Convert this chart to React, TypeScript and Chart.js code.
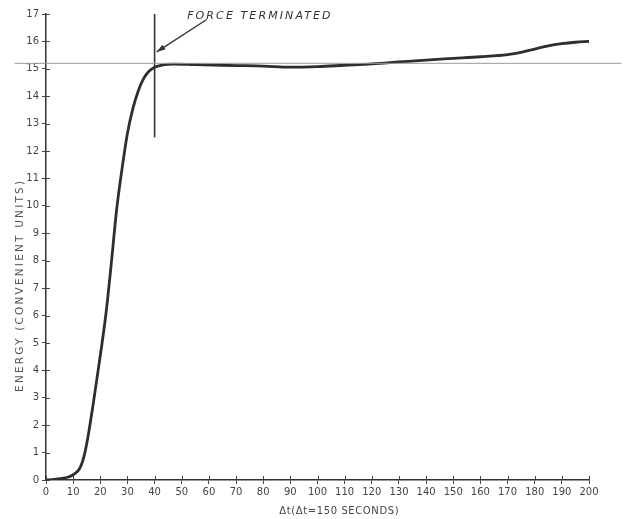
import React, { useEffect, useRef } from 'react';
import { Chart, registerables } from 'chart.js';

Chart.register(...registerables);

// ---- data ----
const timeSteps = [0, 3, 5, 8, 10, 12, 13, 14, 15.5, 17.5, 19.5, 22, 24, 26, 28, 30, 32, 34, 36, 38, 40, 43, 47, 55, 70, 80, 90, 100, 110, 120, 130, 140, 150, 160, 170, 175, 180, 185, 190, 195, 200];
const energy = [0, 0.02, 0.05, 0.1, 0.19, 0.36, 0.55, 0.86, 1.6, 2.85, 4.2, 6.0, 7.85, 9.85, 11.35, 12.65, 13.55, 14.2, 14.65, 14.92, 15.06, 15.14, 15.17, 15.15, 15.12, 15.1, 15.06, 15.08, 15.13, 15.18, 15.25, 15.32, 15.38, 15.44, 15.52, 15.6, 15.72, 15.84, 15.92, 15.97, 16.0];
const xTickValues = [0, 10, 20, 30, 40, 50, 60, 70, 80, 90, 100, 110, 120, 130, 140, 150, 160, 170, 180, 190, 200];
const yTickValues = [0, 1, 2, 3, 4, 5, 6, 7, 8, 9, 10, 11, 12, 13, 14, 15, 16, 17];
const forceTerminatedAt = 40;
const forceMarkerEnergy = [12.5, 17];
const referenceEnergy = 15.2;
const referenceSpan = [-11.5, 212];
const annotationText = 'FORCE TERMINATED';
const yTitle = 'ENERGY (CONVENIENT UNITS)';
const xTitle = 'Δt(Δt=150 SECONDS)';

// annotation anchors in data units
const arrowFrom = { x: 59.2, y: 16.8 };
const arrowTo = { x: 40.8, y: 15.62 };
const labelAt = { x: 52, y: 16.93 };
const yTitleCenter = 7.1;
const xTitleCenter = 108;

const INK = '#333';
const FONT = '"DejaVu Sans", sans-serif';

const decorations = {
  id: 'decorations',
  afterDraw(chart: any) {
    const { ctx, scales } = chart;
    const xs = scales.x;
    const ys = scales.y;
    ctx.save();
    // inward tick halves
    ctx.strokeStyle = '#444';
    ctx.lineWidth = 1;
    const bottom = ys.getPixelForValue(0);
    const left = xs.getPixelForValue(0);
    xTickValues.forEach((v) => {
      const px = Math.round(xs.getPixelForValue(v)) + 0.5;
      ctx.beginPath();
      ctx.moveTo(px, bottom);
      ctx.lineTo(px, bottom - 4);
      ctx.stroke();
    });
    yTickValues.forEach((v) => {
      const py = Math.round(ys.getPixelForValue(v)) + 0.5;
      ctx.beginPath();
      ctx.moveTo(left, py);
      ctx.lineTo(left + 4, py);
      ctx.stroke();
    });

    // arrow
    const ax0 = xs.getPixelForValue(arrowFrom.x);
    const ay0 = ys.getPixelForValue(arrowFrom.y);
    const ax1 = xs.getPixelForValue(arrowTo.x);
    const ay1 = ys.getPixelForValue(arrowTo.y);
    ctx.strokeStyle = INK;
    ctx.fillStyle = INK;
    ctx.lineWidth = 1.4;
    ctx.beginPath();
    ctx.moveTo(ax0, ay0);
    ctx.lineTo(ax1, ay1);
    ctx.stroke();
    const ang = Math.atan2(ay1 - ay0, ax1 - ax0);
    const hl = 9;
    const hw = 0.32;
    ctx.beginPath();
    ctx.moveTo(ax1, ay1);
    ctx.lineTo(ax1 - hl * Math.cos(ang - hw), ay1 - hl * Math.sin(ang - hw));
    ctx.lineTo(ax1 - hl * Math.cos(ang + hw), ay1 - hl * Math.sin(ang + hw));
    ctx.closePath();
    ctx.fill();

    // annotation text
    ctx.font = `italic 11px ${FONT}`;
    (ctx as any).letterSpacing = '2.1px';
    ctx.textAlign = 'left';
    ctx.textBaseline = 'middle';
    ctx.fillStyle = '#333';
    ctx.fillText(annotationText, xs.getPixelForValue(labelAt.x), ys.getPixelForValue(labelAt.y));

    // y title
    ctx.save();
    ctx.font = `10.5px ${FONT}`;
    (ctx as any).letterSpacing = '2.2px';
    ctx.fillStyle = '#555';
    ctx.translate(20, ys.getPixelForValue(yTitleCenter));
    ctx.rotate(-Math.PI / 2);
    ctx.textAlign = 'center';
    ctx.textBaseline = 'middle';
    ctx.fillText(yTitle, 0, 0);
    ctx.restore();

    // x title
    ctx.font = `10px ${FONT}`;
    (ctx as any).letterSpacing = '0.6px';
    ctx.fillStyle = '#444';
    ctx.textAlign = 'center';
    ctx.textBaseline = 'middle';
    ctx.fillText(xTitle, xs.getPixelForValue(xTitleCenter), 511);
    ctx.restore();
  },
};

export default function App() {
  const canvasRef = useRef<HTMLCanvasElement | null>(null);

  useEffect(() => {
    const canvas = canvasRef.current;
    if (!canvas) return;
    const curve = timeSteps.map((t, i) => ({ x: t, y: energy[i] }));
    const marker = forceMarkerEnergy.map((e) => ({ x: forceTerminatedAt, y: e }));
    const reference = referenceSpan.map((t) => ({ x: t, y: referenceEnergy }));

    const chart = new Chart(canvas, {
      type: 'line',
      data: {
        datasets: [
          {
            label: 'reference',
            data: reference,
            borderColor: '#9a9a9a',
            borderWidth: 1,
            pointRadius: 0,
            clip: false as any,
            tension: 0,
          },
          {
            label: 'force terminated',
            data: marker,
            borderColor: INK,
            borderWidth: 1.6,
            pointRadius: 0,
            clip: false as any,
            tension: 0,
          },
          {
            label: 'energy',
            data: curve,
            borderColor: '#2e2e2e',
            borderWidth: 2.8,
            pointRadius: 0,
            cubicInterpolationMode: 'monotone',
            borderCapStyle: 'round',
          },
        ],
      },
      options: {
        animation: false,
        responsive: false,
        maintainAspectRatio: false,
        layout: { padding: { left: 0, top: 14, right: 37, bottom: 0 } },
        plugins: {
          legend: { display: false },
          tooltip: { enabled: false },
          title: { display: false },
        },
        scales: {
          x: {
            type: 'linear',
            min: 0,
            max: 200,
            afterBuildTicks: (s: any) => {
              s.ticks = xTickValues.map((v) => ({ value: v }));
            },
            afterFit: (s: any) => {
              s.height = 39;
            },
            ticks: {
              autoSkip: false,
              maxRotation: 0,
              padding: 2,
              color: '#444',
              font: { family: FONT, size: 10 },
            },
            grid: { drawOnChartArea: false, drawTicks: true, tickLength: 4, color: '#444' },
            border: { display: true, color: '#333', width: 1.5 },
          },
          y: {
            type: 'linear',
            min: 0,
            max: 17,
            afterBuildTicks: (s: any) => {
              s.ticks = yTickValues.map((v) => ({ value: v }));
            },
            afterFit: (s: any) => {
              s.width = 46;
            },
            ticks: {
              padding: 3,
              color: '#444',
              font: { family: FONT, size: 10 },
            },
            grid: { drawOnChartArea: false, drawTicks: true, tickLength: 4, color: '#444' },
            border: { display: true, color: '#333', width: 1.5 },
          },
        },
      },
      plugins: [decorations],
    });
    return () => chart.destroy();
  }, []);

  return (
    <div style={{ position: 'fixed', left: 0, top: 0, width: 626, height: 519, background: '#fff' }}>
      <canvas ref={canvasRef} width={626} height={519} style={{ display: 'block', width: 626, height: 519 }} />
    </div>
  );
}
